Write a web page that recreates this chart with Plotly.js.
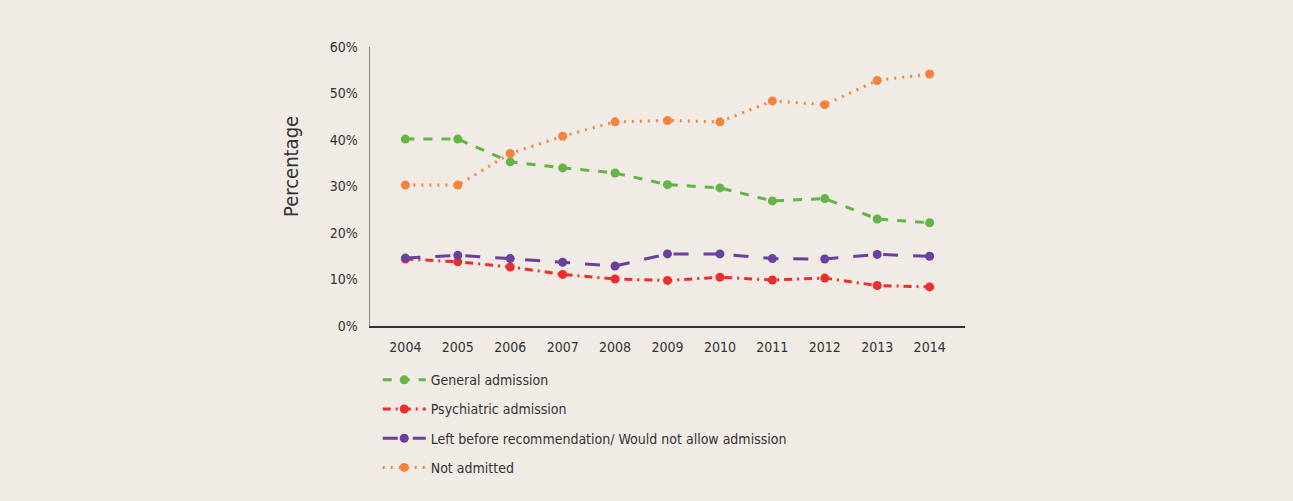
<!DOCTYPE html>
<html><head><meta charset="utf-8">
<script src="https://cdn.plot.ly/plotly-3.0.1.min.js"></script>
<style>html,body{margin:0;padding:0;background:#f0ebe5;}#chart{width:1293px;height:501px;}</style>
</head><body><div id="chart"></div>
<script>
const years = ["2004","2005","2006","2007","2008","2009","2010","2011","2012","2013","2014"];
const generalAdmission = [40.2,40.2,35.3,34.0,32.9,30.4,29.7,26.9,27.4,23.0,22.2];
const psychiatricAdmission = [14.4,13.8,12.7,11.1,10.1,9.8,10.5,9.9,10.3,8.7,8.4];
const leftBefore = [14.6,15.2,14.5,13.7,12.9,15.5,15.5,14.5,14.4,15.4,15.0];
const notAdmitted = [30.3,30.3,37.1,40.8,43.9,44.2,43.9,48.4,47.6,52.8,54.2];
const yTicks = [0,10,20,30,40,50,60];

const FONT = '"DejaVu Sans Condensed", "Liberation Sans", Arial, sans-serif';
function tr(name, y, color, dash, g){
  return {x: years, y: y, name: name, type:'scatter', mode:'lines+markers', legendgroup:g,
    line:{color:color, width:3, dash:dash}, marker:{color:color, size:9}};
}
const data = [
  tr('General admission', generalAdmission, '#64b546', 'dash', 'a'),
  tr('Psychiatric admission', psychiatricAdmission, '#ee2d2d', '8px,5px,2px,5px', 'b'),
  tr('Left before recommendation/ Would not allow admission', leftBefore, '#6b3fa0', 'longdash', 'c'),
  tr('Not admitted', notAdmitted, '#f5843a', '2px,6px', 'd')
];
const layout = {
  width:1293, height:501,
  paper_bgcolor:'#f0ebe5', plot_bgcolor:'#f0ebe5',
  margin:{l:370, r:328, t:47, b:175},
  font:{family:FONT, size:14, color:'#333'},
  showlegend:true,
  legend:{x:0.013, y:-0.137, xanchor:'left', yanchor:'top', bgcolor:'rgba(0,0,0,0)',
    font:{family:FONT, size:14, color:'#333'}, tracegroupgap:8, itemwidth:43},
  xaxis:{type:'category', showgrid:false, zeroline:false, showline:true, linecolor:'#333', linewidth:1.5,
    ticks:'', ticklabelstandoff:8, tickfont:{family:FONT, size:14, color:'#333'}, fixedrange:true},
  yaxis:{range:[0,60], tickvals:yTicks, ticktext:yTicks.map(v=>v+'%'), showgrid:false, zeroline:false,
    showline:true, linecolor:'#888', linewidth:1.5, ticks:'', ticklen:0, ticklabelstandoff:8,
    tickfont:{family:FONT, size:14, color:'#333'}},
  annotations:[{text:'Percentage', xref:'paper', yref:'paper', x:-0.1328, y:0.5735,
    xanchor:'center', yanchor:'middle', textangle:-90, showarrow:false,
    font:{family:FONT, size:20, color:'#333'}}]
};
Plotly.newPlot('chart', data, layout, {displayModeBar:false, staticPlot:true});
</script></body></html>
